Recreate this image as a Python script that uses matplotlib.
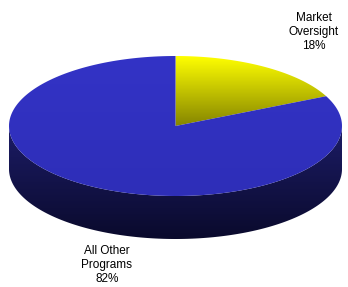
import numpy as np
import matplotlib
matplotlib.use("Agg")
import matplotlib.pyplot as plt
from matplotlib.patches import Polygon
from matplotlib.colors import LinearSegmentedColormap

labels = ["Market\nOversight", "All Other\nPrograms"]
values = [18, 82]

plt.rcParams['font.family'] = ['Liberation Sans', 'DejaVu Sans']

fig = plt.figure(figsize=(3.48, 2.87), dpi=100)
ax = fig.add_axes([0, 0, 1, 1])
ax.set_xlim(0, 348)
ax.set_ylim(287, 0)
ax.axis("off")

cx, cy = 175.5, 126.0   # centre of top face
a, b = 166.5, 70.0      # ellipse radii
depth = 43.0


def ell(t, dy=0.0):
    t = np.radians(t)
    return np.column_stack([cx + a * np.cos(t), cy - b * np.sin(t) + dy])


def grad_fill(patch, c_top, c_bot, y0, y1):
    cmap = LinearSegmentedColormap.from_list("g", [c_top, c_bot])
    grad = np.linspace(0, 1, 256).reshape(-1, 1)
    im = ax.imshow(grad, cmap=cmap, extent=[0, 348, y1, y0], aspect="auto",
                   interpolation="bilinear", zorder=patch.get_zorder())
    im.set_clip_path(patch)


# side wall (front half)
t = np.linspace(180, 360, 200)
side = np.vstack([ell(t), ell(t[::-1], depth)])
p = Polygon(side, closed=True, facecolor="none", edgecolor="none", zorder=1)
ax.add_patch(p)
grad_fill(p, "#1c1c66", "#0a0a2c", cy, cy + b + depth)

# top face wedges, clockwise from 12 o'clock
angles = np.cumsum([0] + values) / sum(values) * 360.0
styles = [("#ffff00", "#858500", True), ("#3333c6", "#2e2eb8", False)]
for i, v in enumerate(values):
    t0 = 90 - angles[i]
    t1 = 90 - angles[i + 1]
    t = np.linspace(t0, t1, 200)
    pts = np.vstack([[cx, cy], ell(t)])
    p = Polygon(pts, closed=True, facecolor="none", edgecolor="none", zorder=2)
    ax.add_patch(p)
    c_top, c_bot, _ = styles[i]
    grad_fill(p, c_top, c_bot, cy - b, cy + (b if i else 0))

ax.text(314, 32, labels[0] + "\n%d%%" % values[0], ha="center", va="center",
        fontsize=8.5, linespacing=1.25, color="black")
ax.text(107, 265, labels[1] + "\n%d%%" % values[1], ha="center", va="center",
        fontsize=8.5, linespacing=1.25, color="black")

fig.savefig("out.png", dpi=100)
